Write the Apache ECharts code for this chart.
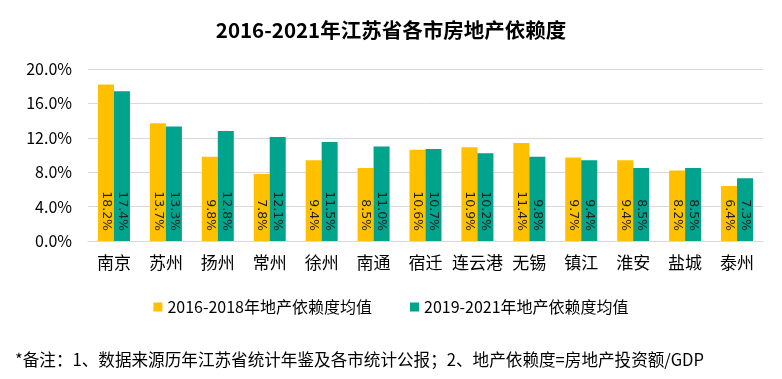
<!DOCTYPE html>
<html><head><meta charset="utf-8">
<script src="https://cdn.jsdelivr.net/npm/echarts@6/dist/echarts.min.js"></script>
<style>html,body{margin:0;padding:0;background:#fff}#c{width:782px;height:379px}</style>
</head><body><div id="c"></div>
<script>
const categories = ['南京','苏州','扬州','常州','徐州','南通','宿迁','连云港','无锡','镇江','淮安','盐城','泰州'];
const series1Name = '2016-2018年地产依赖度均值';
const series2Name = '2019-2021年地产依赖度均值';
const series1 = [18.2,13.7,9.8,7.8,9.4,8.5,10.6,10.9,11.4,9.7,9.4,8.2,6.4];
const series2 = [17.4,13.3,12.8,12.1,11.5,11.0,10.7,10.2,9.8,9.4,8.5,8.5,7.3];
const titleText = '2016-2021年江苏省各市房地产依赖度';
const noteText = '*备注：1、数据来源历年江苏省统计年鉴及各市统计公报；2、地产依赖度=房地产投资额/GDP';

const font = '"Noto Sans CJK SC", "Noto Sans", sans-serif';
const chart = echarts.init(document.getElementById('c'));
const lbl = {
  show: true, position: 'insideBottom', rotate: -90, align: 'right', verticalAlign: 'middle',
  distance: 10, color: '#222', fontSize: 12.5, fontFamily: 'DejaVu Sans',
  formatter: p => p.value.toFixed(1) + '%'
};
chart.setOption({
  animation: false,
  title: [
    {text: titleText, left: 'center', top: 15, textStyle: {fontSize: 20.5, fontWeight: 'bold', color: '#000', fontFamily: font}},
    {text: noteText, left: 10, top: 346, textStyle: {fontSize: 16.6, fontWeight: 'normal', color: '#000', fontFamily: font}}
  ],
  legend: {
    left: 'center', top: 294, itemWidth: 9, itemHeight: 9, itemGap: 38, icon: 'rect',
    textStyle: {fontSize: 16, color: '#000', fontFamily: font},
    data: [series1Name, series2Name]
  },
  grid: {left: 88, right: 19, top: 69, bottom: 138},
  xAxis: {
    type: 'category', data: categories,
    axisLine: {lineStyle: {color: '#d9d9d9', width: 1}},
    axisTick: {show: false},
    axisLabel: {interval: 0, fontSize: 17, color: '#000', fontFamily: font, margin: 13}
  },
  yAxis: {
    type: 'value', min: 0, max: 20, interval: 4,
    axisLine: {show: false}, axisTick: {show: false},
    splitLine: {lineStyle: {color: '#d9d9d9', width: 1}},
    axisLabel: {fontSize: 16, color: '#000', fontFamily: font, margin: 16, formatter: v => v.toFixed(1) + '%'}
  },
  series: [
    {name: series1Name, type: 'bar', data: series1, barWidth: 16, barGap: '0%', itemStyle: {color: '#FFC000'}, label: lbl},
    {name: series2Name, type: 'bar', data: series2, barWidth: 16, itemStyle: {color: '#00A38B'}, label: lbl}
  ]
});
</script></body></html>
